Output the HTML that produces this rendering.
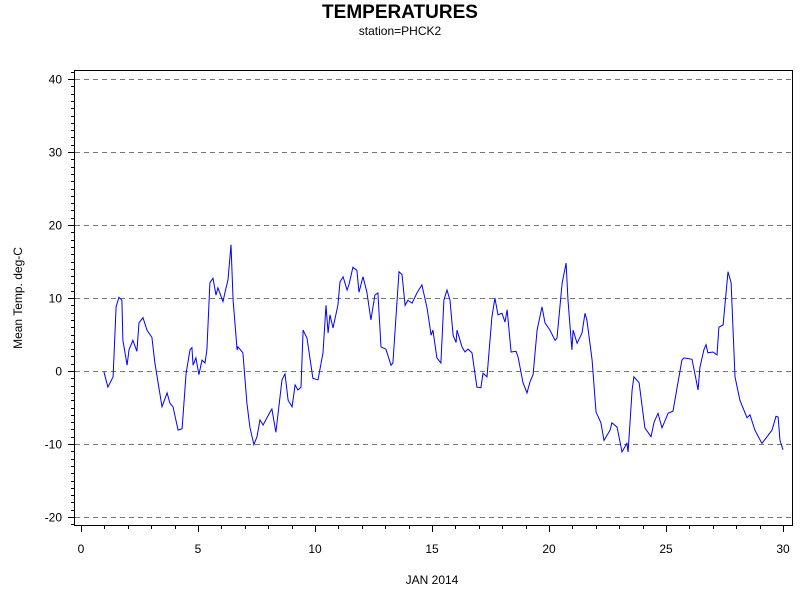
<!DOCTYPE html>
<html><head><meta charset="utf-8"><style>
body{margin:0;background:#fff;font-family:"Liberation Sans",sans-serif}
svg text{font-family:"Liberation Sans",sans-serif}
</style></head><body>
<svg id="chart" width="800" height="600" xmlns="http://www.w3.org/2000/svg">
<rect width="800" height="600" fill="#fff"/>
<text x="400" y="18" text-anchor="middle" font-size="19" font-weight="bold">TEMPERATURES</text>
<text x="400" y="35" text-anchor="middle" font-size="12">station=PHCK2</text>
<text transform="translate(22,298) rotate(-90)" text-anchor="middle" font-size="12">Mean Temp. deg-C</text>
<text x="432" y="584" text-anchor="middle" font-size="12">JAN 2014</text>
<g id="grid"></g><g id="axes"></g><g id="series"></g>
<rect x="74.5" y="70.5" width="718" height="455" fill="none" stroke="#000"/>
</svg>
<script>
const days=[0.98,1.15,1.37,1.50,1.62,1.75,1.79,1.97,2.05,2.22,2.39,2.48,2.65,2.82,3.03,3.16,3.46,3.68,3.80,3.93,4.15,4.32,4.49,4.66,4.74,4.79,4.91,5.04,5.17,5.30,5.38,5.51,5.64,5.77,5.85,6.07,6.15,6.28,6.41,6.50,6.67,6.71,6.92,7.09,7.22,7.39,7.52,7.65,7.78,8.08,8.16,8.33,8.59,8.72,8.85,9.02,9.15,9.27,9.40,9.49,9.66,9.91,10.13,10.34,10.47,10.56,10.64,10.77,10.98,11.07,11.20,11.37,11.45,11.62,11.79,11.88,12.05,12.22,12.39,12.56,12.69,12.82,13.03,13.25,13.33,13.59,13.72,13.85,13.97,14.15,14.36,14.57,14.79,14.96,15.04,15.21,15.38,15.51,15.64,15.77,15.90,16.03,16.07,16.28,16.41,16.54,16.71,16.92,17.09,17.18,17.35,17.56,17.69,17.82,17.99,18.12,18.21,18.38,18.59,18.68,18.89,19.06,19.19,19.32,19.49,19.70,19.83,20.04,20.26,20.34,20.56,20.73,20.81,20.98,21.03,21.20,21.41,21.54,21.62,21.84,22.01,22.22,22.35,22.61,22.69,22.91,23.12,23.33,23.38,23.55,23.63,23.85,24.10,24.36,24.49,24.66,24.83,25.09,25.30,25.68,25.77,26.11,26.37,26.45,26.62,26.71,26.79,27.01,27.18,27.26,27.44,27.65,27.78,27.95,28.16,28.46,28.59,28.80,29.10,29.32,29.53,29.70,29.79,29.87,30.0];
const temps=[-0.1,-2.2,-0.8,8.8,10.1,9.7,4.2,0.8,2.9,4.2,2.7,6.6,7.3,5.6,4.6,1.1,-4.9,-3.0,-4.4,-4.9,-8.1,-7.9,-0.3,2.9,3.2,0.8,1.8,-0.5,1.5,1.1,2.9,12.1,12.7,10.4,11.4,9.5,10.7,12.5,17.3,9.7,2.9,3.3,2.5,-4.4,-7.7,-10.1,-9.0,-6.7,-7.4,-5.6,-5.2,-8.4,-1.2,-0.4,-4.0,-4.9,-1.9,-2.6,-2.2,5.6,4.5,-1.0,-1.2,2.5,9.0,5.2,7.7,5.9,9.0,12.2,12.9,11.1,11.8,14.2,13.8,10.8,12.9,10.8,7.0,10.4,10.7,3.3,3.0,0.8,1.1,13.6,13.2,9.0,9.7,9.3,10.7,11.8,8.6,4.9,5.6,1.8,1.1,9.7,11.1,9.7,4.9,3.9,5.6,3.3,2.6,3.0,2.5,-2.2,-2.3,-0.3,-0.8,7.4,10.0,7.7,7.9,6.7,8.4,2.6,2.7,1.9,-1.6,-3.0,-1.5,-0.5,5.6,8.8,6.6,5.6,4.2,4.5,12.0,14.8,9.7,2.9,5.6,3.8,5.2,7.9,7.0,1.5,-5.6,-7.1,-9.5,-8.1,-7.1,-7.7,-11.1,-9.9,-11.1,-2.6,-0.8,-1.6,-7.8,-9.0,-7.0,-5.8,-7.8,-5.8,-5.5,1.5,1.8,1.6,-2.6,0.5,2.9,3.6,2.5,2.6,2.2,6.0,6.3,13.6,12.1,-0.8,-4.0,-6.4,-6.0,-8.1,-9.9,-9.0,-8.1,-6.2,-6.3,-9.5,-10.8];
const yTicks=[-20,-10,0,10,20,30,40];
const xTicks=[0,5,10,15,20,25,30];
const NS="http://www.w3.org/2000/svg";
function sx(d){return 81+d*23.4;}
function sy(v){return 371-v*7.3;}
function mk(tag,attrs,parent){const e=document.createElementNS(NS,tag);for(const k in attrs)e.setAttribute(k,attrs[k]);parent.appendChild(e);return e;}
const grid=document.getElementById('grid'),axes=document.getElementById('axes'),series=document.getElementById('series');
yTicks.forEach(v=>{
  const y=Math.round(sy(v))+0.5;
  const g=mk('line',{x1:75,x2:792,y1:y,y2:y,stroke:'#777','stroke-dasharray':'5,4'},grid);
  
  
  const t=mk('line',{x1:68,x2:74,y1:y,y2:y,stroke:'#000'},axes);
  
  
  const l=mk('text',{x:62,y:y+4,'text-anchor':'end','font-size':12},axes);
  l.textContent=v;
  
  
});
for(let v=-21;v<=41;v+=1){
  if(v%10===0)continue;
  const y=Math.round(sy(v))+0.5;
  const m=mk('line',{x1:71,x2:74,y1:y,y2:y,stroke:'#000'},axes);
  
  
}
for(let d=0;d<=30;d++){
  const x=Math.round(sx(d))+0.5;
  const major=xTicks.includes(d);
  const t=mk('line',{x1:x,x2:x,y1:526,y2:major?532:529,stroke:'#000'},axes);
  
  
}
xTicks.forEach(d=>{
  const l=mk('text',{x:sx(d),y:553,'text-anchor':'middle','font-size':12},axes);
  l.textContent=d;
  
  
});
const pts=days.map((d,i)=>sx(d).toFixed(1)+','+sy(temps[i]).toFixed(1)).join(' ');
const line=mk('polyline',{points:pts,fill:'none',stroke:'#0000ff','stroke-width':1},series);


</script>
</body></html>
